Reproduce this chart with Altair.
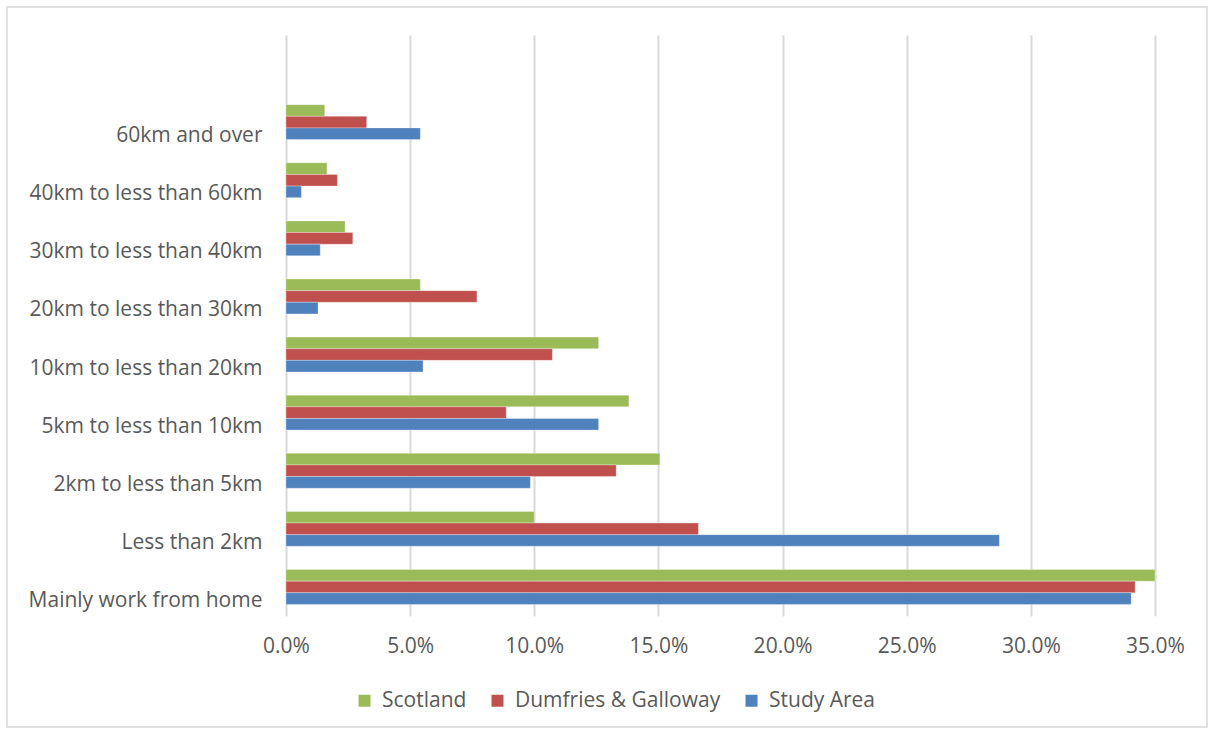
import altair as alt
import pandas as pd

categories = ["60km and over", "40km to less than 60km", "30km to less than 40km",
              "20km to less than 30km", "10km to less than 20km", "5km to less than 10km",
              "2km to less than 5km", "Less than 2km", "Mainly work from home"]
series = ["Scotland", "Dumfries & Galloway", "Study Area"]
scotland = [0.0156, 0.0165, 0.0238, 0.0541, 0.1259, 0.1381, 0.1506, 0.1000, 0.3500]
dumfries = [0.0325, 0.0207, 0.0269, 0.0769, 0.1073, 0.0887, 0.1330, 0.1661, 0.3420]
study = [0.0541, 0.0062, 0.0138, 0.0129, 0.0552, 0.1259, 0.0984, 0.2873, 0.3404]
colors = ["#9BBB59", "#C0504D", "#4F81BD"]
x_ticks = [0, 0.05, 0.10, 0.15, 0.20, 0.25, 0.30, 0.35]

rows = []
for name, vals in zip(series, [scotland, dumfries, study]):
    for c, v in zip(categories, vals):
        rows.append({"category": c, "series": name, "value": v})
df = pd.DataFrame(rows)

FONT = "Open Sans"
LABEL = "#595959"
GRID = "#D9D9D9"
FS = 21

bars = alt.Chart(df).mark_bar(stroke="white", strokeWidth=0.6, strokeOpacity=0.5).encode(
    x=alt.X("value:Q",
            scale=alt.Scale(domain=[0, 0.35], nice=False),
            axis=alt.Axis(values=x_ticks, format=".1%", title=None, grid=True,
                          gridColor=GRID, gridWidth=2, domain=False, ticks=False,
                          labelFlush=False, labelPadding=19, labelFontSize=FS,
                          labelColor=LABEL, labelFont=FONT)),
    y=alt.Y("category:N",
            scale=alt.Scale(domain=[""] + categories, paddingInner=0.4, paddingOuter=0.2),
            axis=alt.Axis(title=None, domain=False, ticks=False, labelPadding=24,
                          labelOffset=14, labelFontSize=FS, labelColor=LABEL,
                          labelFont=FONT, labelLimit=400)),
    yOffset=alt.YOffset("series:N", sort=series),
    color=alt.Color("series:N",
                    scale=alt.Scale(domain=series, range=colors),
                    legend=alt.Legend(title=None, orient="none", direction="horizontal",
                                      legendX=68, legendY=655, symbolType="square",
                                      symbolSize=144, symbolStrokeWidth=0,
                                      labelFontSize=FS, labelColor=LABEL, labelFont=FONT,
                                      labelLimit=400, columnPadding=20, labelOffset=7)),
)

border = alt.Chart(pd.DataFrame({"a": [0]})).mark_rect(
    fill=None, stroke=GRID, strokeWidth=1.5
).encode(
    x=alt.value(-279), x2=alt.value(921), y=alt.value(-28), y2=alt.value(692)
)

chart = alt.layer(border, bars).properties(
    width=869, height=581,
    autosize=alt.AutoSizeParams(type="none"),
    padding={"left": 286, "top": 35, "right": 59, "bottom": 117},
    background="white",
).configure_view(stroke=None)

chart.save("out.html", embed_options={"renderer": "svg", "actions": False})
